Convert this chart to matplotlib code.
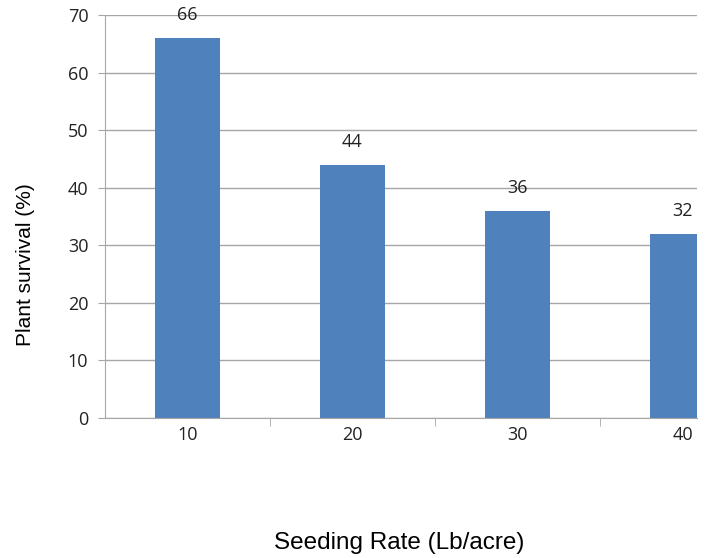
import matplotlib.pyplot as plt
import numpy as np

# data
rates = ['10', '20', '30', '40']
survival = [66, 44, 36, 32]

bar_color = '#4f81bd'
grid_color = '#a6a6a6'
num_font = 'Open Sans'
label_font = 'Liberation Sans'

fig = plt.figure(figsize=(7.05, 5.58), dpi=100)
ax = fig.add_axes([105 / 705, 140 / 558, 592 / 705, 403 / 558])

x = np.arange(len(rates))
bars = ax.bar(x, survival, width=0.394, color=bar_color, zorder=2)

# value labels above the bars
for xi, v in zip(x, survival):
    ax.annotate(str(v), (xi, v), xytext=(0, 10), textcoords='offset points',
                ha='center', va='bottom', fontsize=13, family=num_font, color='#222222')

ax.set_xlim(-0.5, (697 - 105) / 165 - 0.5)
ax.set_ylim(0, 70)
ax.set_yticks(range(0, 71, 10))
ax.set_xticks(x)
ax.set_xticklabels(rates)
ax.set_xticks(x[:-1] + 0.5, minor=True)

ax.grid(axis='y', color=grid_color, linewidth=1, zorder=0)
for s in ['top', 'right']:
    ax.spines[s].set_visible(False)
for s in ['left', 'bottom']:
    ax.spines[s].set_color(grid_color)

ax.tick_params(axis='x', which='major', length=0, pad=6)
ax.tick_params(axis='x', which='minor', length=6, color=grid_color, direction='out')
ax.tick_params(axis='y', length=5, color=grid_color, pad=7)
for lbl in ax.get_xticklabels() + ax.get_yticklabels():
    lbl.set_fontfamily(num_font)
    lbl.set_fontsize(13)
    lbl.set_color('#222222')

ax.set_ylabel('Plant survival (%)', fontsize=15, family=label_font)
ax.yaxis.set_label_coords(-(105 - 35) / 592, (418 - 265) / 403)
fig.text(399 / 705, 1 - 543 / 558, 'Seeding Rate (Lb/acre)', ha='center', va='center',
         fontsize=17.5, family=label_font)

fig.savefig('out.png', dpi=100)
